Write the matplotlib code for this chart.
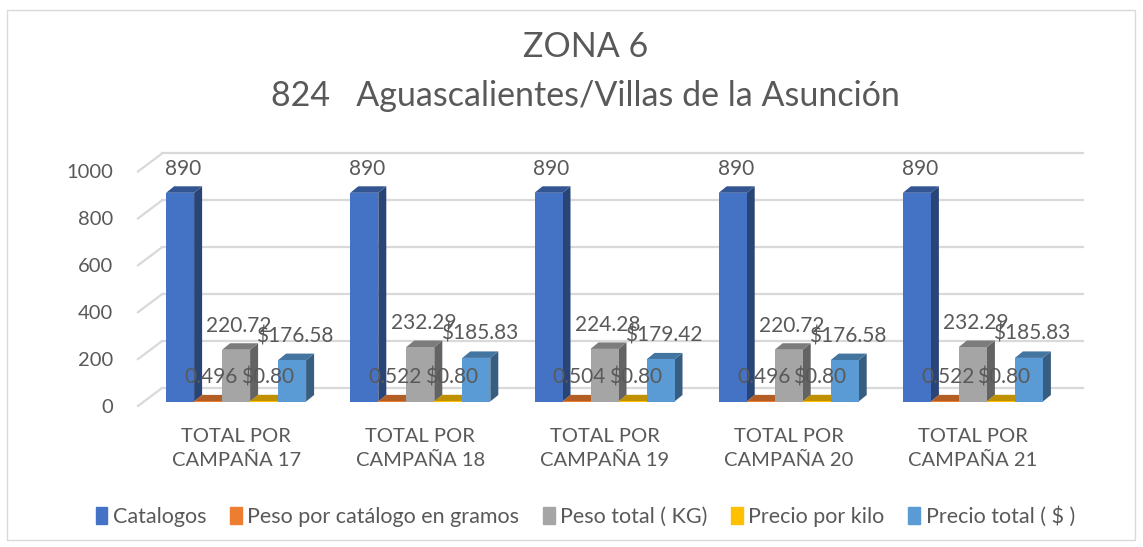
import numpy as np
import matplotlib.pyplot as plt
from matplotlib.patches import Polygon, Patch, Rectangle
from matplotlib.colors import to_rgb

plt.rcParams['font.family'] = ['Lato', 'DejaVu Sans']

# datos
campanas = ['TOTAL POR\nCAMPAÑA 17', 'TOTAL POR\nCAMPAÑA 18', 'TOTAL POR\nCAMPAÑA 19',
            'TOTAL POR\nCAMPAÑA 20', 'TOTAL POR\nCAMPAÑA 21']
catalogos = [890, 890, 890, 890, 890]
peso_catalogo = [0.496, 0.522, 0.504, 0.496, 0.522]
peso_total = [220.72, 232.29, 224.28, 220.72, 232.29]
precio_kilo = [0.80, 0.80, 0.80, 0.80, 0.80]
precio_total = [176.58, 185.83, 179.42, 176.58, 185.83]

series = [
    ('Catalogos', catalogos, '#4472C4', '{:.0f}'),
    ('Peso por catálogo en gramos', peso_catalogo, '#ED7D31', '{:.3f}'),
    ('Peso total ( KG)', peso_total, '#A5A5A5', '{:.2f}'),
    ('Precio por kilo', precio_kilo, '#FFC000', '${:.2f}'),
    ('Precio total ( $ )', precio_total, '#5B9BD5', '${:.2f}'),
]

txt = '#595959'
W, H = 1143, 547
fig = plt.figure(figsize=(W / 100, H / 100), dpi=100)
ax = fig.add_axes([138 / W, 141 / H, 921 / W, 234.5 / H])
ax.set_xlim(-0.5, 4.5)
ax.set_ylim(0, 1000)
for s in ax.spines.values():
    s.set_visible(False)

# pixeles -> unidades de datos
sx = 921 / 5.0
sy = 234.5 / 1000.0
def px(dx, dy):
    return dx / sx, dy / sy

# pared del fondo y lineas diagonales
wdx, wdy = px(24, 18)
for v in range(0, 1001, 200):
    ax.plot([-0.5 + wdx, 4.5 + wdx], [v + wdy, v + wdy], color='#D9D9D9', lw=1.6,
            clip_on=False, zorder=0)
    ax.plot([-0.5, -0.5 + wdx], [v, v + wdy], color='#D9D9D9', lw=1.6,
            clip_on=False, zorder=0)

# barras 3D
bw = 28 / sx
sdx, sdy = px(6, 4.5)     # posicion dentro del piso
ddx, ddy = px(8, 6.5)     # profundidad de la barra
x = np.arange(len(campanas))
z = 2
for i in range(len(campanas)):
    for k, (name, vals, col, fmt) in enumerate(series):
        x0 = x[i] - 2.5 * bw + k * bw + sdx
        y0 = sdy
        h = vals[i]
        c = np.array(to_rgb(col))
        side = Polygon([(x0 + bw, y0), (x0 + bw + ddx, y0 + ddy),
                        (x0 + bw + ddx, y0 + h + ddy), (x0 + bw, y0 + h)],
                       closed=True, fc=c * 0.6, ec='none', zorder=z, clip_on=False)
        top = Polygon([(x0, y0 + h), (x0 + ddx, y0 + h + ddy),
                       (x0 + bw + ddx, y0 + h + ddy), (x0 + bw, y0 + h)],
                      closed=True, fc=c * 0.75, ec='none', zorder=z, clip_on=False)
        ax.add_patch(side)
        ax.add_patch(top)
        ax.bar(x0, h, width=bw, bottom=y0, align='edge', color=col, zorder=z + 0.5,
               clip_on=False)
        ax.annotate(fmt.format(h), (x0 + bw / 2, y0 + h), xytext=(3, 24),
                    textcoords='offset pixels', ha='center', va='center',
                    fontsize=15, color=txt, zorder=100)
        z += 1

ax.set_yticks(range(0, 1001, 200))
ax.set_xticks(x + sdx)
ax.set_xticklabels(campanas, linespacing=1.45)
ax.tick_params(axis='y', length=0, pad=18, labelsize=14.5, labelcolor=txt)
ax.tick_params(axis='x', length=0, pad=16, labelsize=14.5, labelcolor=txt)

# titulo
fig.text(0.512, 1 - 47 / H, 'ZONA 6', ha='center', va='center', fontsize=24.5, color=txt)
fig.text(0.512, 1 - 96 / H, '824   Aguascalientes/Villas de la Asunción', ha='center',
         va='center', fontsize=24.5, color=txt)

handles = [Patch(color=col, label=name) for name, vals, col, fmt in series]
fig.legend(handles=handles, loc='center', bbox_to_anchor=(0.512, 1 - 517 / H), ncol=5,
           frameon=False, fontsize=15.5, labelcolor=txt, handlelength=0.55,
           handleheight=0.85, handletextpad=0.25, columnspacing=1.1)

fig.add_artist(Rectangle((7 / W, 7 / H), 1128 / W, 530 / H, transform=fig.transFigure,
                         fill=False, ec='#D9D9D9', lw=1))

plt.savefig('out.png', dpi=100)
